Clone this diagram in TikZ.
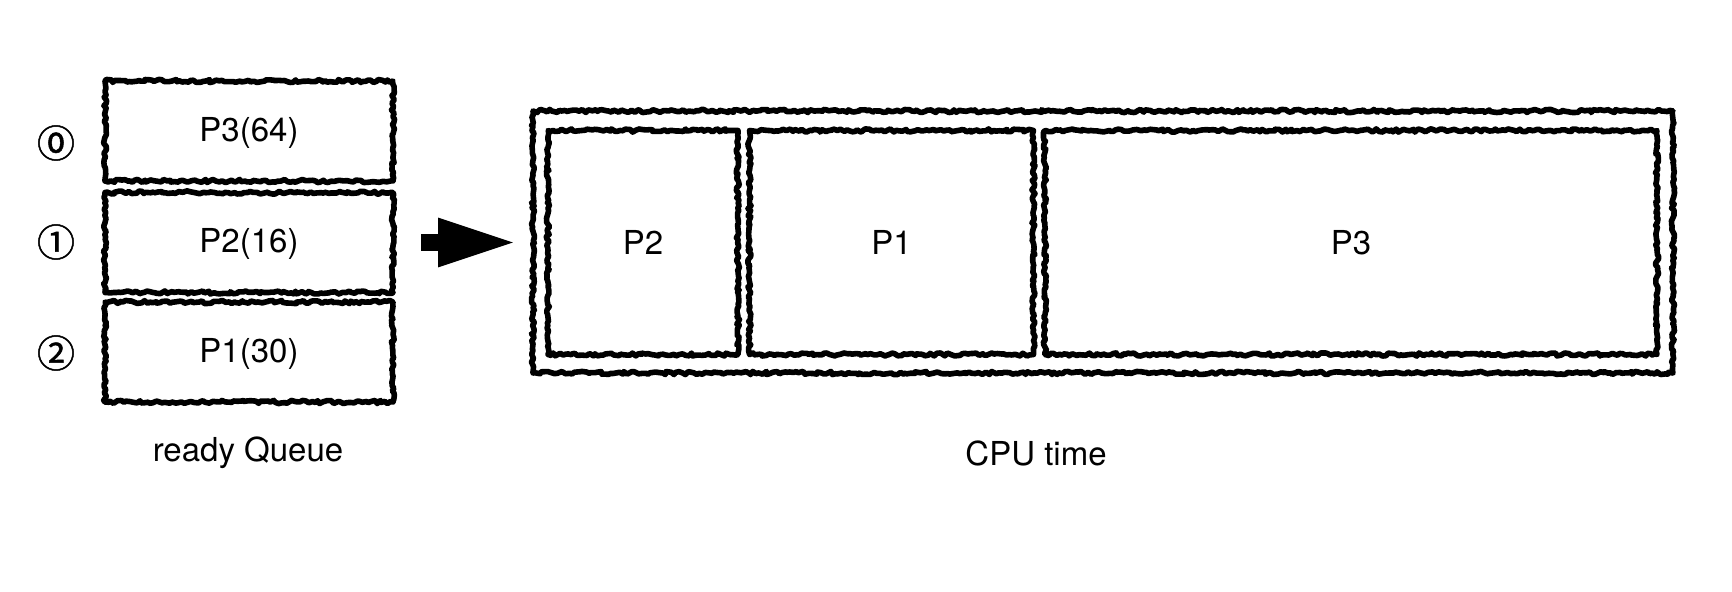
\documentclass[tikz,border=0pt]{standalone}
\usepackage{fontspec}
\setmainfont{TeX Gyre Heros}
\newfontfamily\circfont[FakeBold=1.2]{Noto Sans CJK JP}
\usetikzlibrary{arrows.meta,decorations.pathmorphing}
\begin{document}
\begin{tikzpicture}[x=0.5pt,y=-0.5pt]
		\tikzstyle{every node}=[font=\fontsize{16.5pt}{19pt}\selectfont]
		\tikzstyle{roughbox}=[draw, line width=2.8pt, line join=round, inner sep=0pt,
			decorate, decoration={random steps, segment length=1.4pt, amplitude=0.8pt}]
		\tikzstyle{queuebox}=[roughbox, minimum width=144pt, minimum height=50pt, text depth=0.3ex]
		\tikzstyle{numlabel}=[font=\circfont\fontsize{19pt}{22pt}\selectfont]
		\pgfmathsetseed{42}
		
		\useasboundingbox (0,0) rectangle (1732,592);
		
		% ready queue
		\node[queuebox] (q0) at (249,131) {P3(64)};
		\node[queuebox] (q1) at (249,242.5) {P2(16)};
		\node[queuebox] (q2) at (249,352) {P1(30)};
		
		\node[numlabel] (n0) at (56,143) {⓪};
		\node[numlabel] (n1) at (56,242) {①};
		\node[numlabel] (n2) at (56,353) {②};
		
		\node (rq) at (248,453) {ready Queue};
		
		% cpu time
		\node[roughbox, minimum width=570pt, minimum height=131pt] (cpu) at (1103,242) {};
		\node[roughbox, minimum width=95pt, minimum height=112pt] (s2) at (643,242.5) {P2};
		\node[roughbox, minimum width=142pt, minimum height=112pt] (s1) at (891.5,242.5) {P1};
		\node[roughbox, minimum width=306pt, minimum height=112pt] (s3) at (1351,242.5) {P3};
		
		\node (ct) at (1036,453) {CPU time};
		
		% arrow
		\coordinate (arrtail) at (421,242.5);
		\coordinate (arrhead) at (518,242.5);
		\draw[line width=8.5pt, -{Triangle[length=40pt, width=22pt]}] (arrtail) -- (arrhead);
		
	\end{tikzpicture}
\end{document}
